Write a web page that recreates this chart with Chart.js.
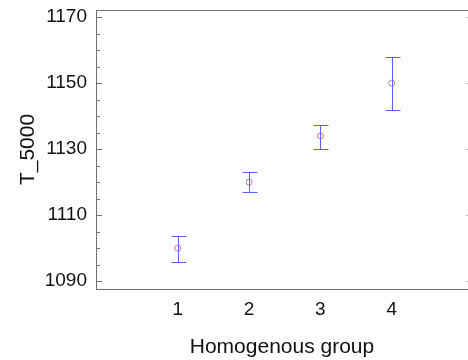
<!DOCTYPE html>
<html>
<head>
<meta charset="utf-8">
<script src="https://cdn.jsdelivr.net/npm/chart.js@4.4.0/dist/chart.umd.min.js"></script>
<style>
  html, body { margin: 0; padding: 0; background: #fff; }
  #wrap { width: 468px; height: 360px; }
</style>
</head>
<body>
<div id="wrap"><canvas id="grafico"></canvas></div>
<script>
// datos
let grupos = [1, 2, 3, 4]
let medias = [1100, 1120, 1134, 1150]
let limInferior = [1095.8, 1117, 1130.2, 1142]
let limSuperior = [1103.6, 1123, 1137.4, 1158]
let ticksY = [1090, 1110, 1130, 1150, 1170]
let menoresY = [1090, 1095, 1100, 1105, 1110, 1115, 1120, 1125, 1130, 1135, 1140, 1145, 1150, 1155, 1160, 1165, 1170]

let puntos = grupos.map((g, i) => ({ x: g, y: medias[i] }))

// barras de error y marcas hacia adentro del eje
let pluginErrores = {
    id: "errores",
    afterDatasetsDraw(chart) {
        let ctx = chart.ctx
        let sx = chart.scales.x
        let sy = chart.scales.y
        let area = chart.chartArea
        ctx.save()
        ctx.strokeStyle = "#5c5cff"
        ctx.lineWidth = 1
        for (let i = 0; i < grupos.length; i++) {
            let px = Math.round(sx.getPixelForValue(grupos[i])) + 0.5
            let y1 = Math.round(sy.getPixelForValue(limInferior[i])) + 0.5
            let y2 = Math.round(sy.getPixelForValue(limSuperior[i])) + 0.5
            ctx.beginPath()
            ctx.moveTo(px, y1); ctx.lineTo(px, y2)
            ctx.moveTo(px - 7, y1); ctx.lineTo(px + 8, y1)
            ctx.moveTo(px - 7, y2); ctx.lineTo(px + 8, y2)
            ctx.stroke()
        }
        ctx.strokeStyle = "#707070"
        menoresY.forEach(v => {
            let py = Math.round(sy.getPixelForValue(v)) + 0.5
            let largo = ticksY.includes(v) ? 6 : 4
            ctx.beginPath()
            ctx.moveTo(area.left, py); ctx.lineTo(area.left + largo, py)
            ctx.stroke()
            // del lado derecho solo se ve la puntita
            if (ticksY.includes(v)) {
                ctx.strokeStyle = "#b0b0b0"
                ctx.beginPath()
                ctx.moveTo(area.right, py); ctx.lineTo(area.right - 2, py)
                ctx.stroke()
                ctx.strokeStyle = "#707070"
            }
        })
        ctx.restore()
    }
}

let fuente = "'Liberation Sans', Arial, sans-serif"

let sinRelleno = s => { s.paddingTop = 0; s.paddingBottom = 0; s.paddingLeft = 0; s.paddingRight = 0 }

new Chart(document.getElementById("grafico"), {
    type: "scatter",
    data: {
        datasets: [{
            data: puntos,
            pointStyle: "circle",
            pointRadius: 3,
            pointHoverRadius: 3,
            borderWidth: 1,
            borderColor: "#c07888",
            backgroundColor: "rgba(0,0,0,0)"
        }]
    },
    options: {
        responsive: true,
        maintainAspectRatio: false,
        animation: false,
        layout: { padding: 0, autoPadding: false },
        plugins: { legend: { display: false }, tooltip: { enabled: false } },
        scales: {
            x: {
                type: "linear",
                min: -0.147,
                max: 5.07,
                afterBuildTicks: s => { s.ticks = grupos.map(v => ({ value: v })) },
                afterFit: s => { s.height = 71; sinRelleno(s) },
                grid: { display: false, drawTicks: false },
                border: { display: true, color: "#707070", width: 1 },
                ticks: { padding: 9, color: "#111", font: { family: fuente, size: 19 } },
                title: { display: true, text: "Homogenous group", color: "#111", padding: { top: 2, bottom: 0 }, font: { family: fuente, size: 21 } }
            },
            x2: {
                type: "linear",
                position: "top",
                afterFit: s => { s.height = 10; sinRelleno(s) },
                grid: { display: false, drawTicks: false },
                border: { display: true, color: "#707070", width: 1 },
                ticks: { display: false }
            },
            y: {
                min: 1087.6,
                max: 1172.2,
                afterBuildTicks: s => { s.ticks = ticksY.map(v => ({ value: v })) },
                afterFit: s => { s.width = 96; sinRelleno(s) },
                grid: { display: false, drawTicks: false },
                border: { display: true, color: "#707070", width: 1 },
                ticks: { padding: 9, color: "#111", font: { family: fuente, size: 19 }, callback: v => String(v) },
                title: { display: true, text: "T_5000", color: "#111", padding: { top: 16, bottom: 0 }, font: { family: fuente, size: 21 } }
            }
        }
    },
    plugins: [pluginErrores]
})
</script>
</body>
</html>
